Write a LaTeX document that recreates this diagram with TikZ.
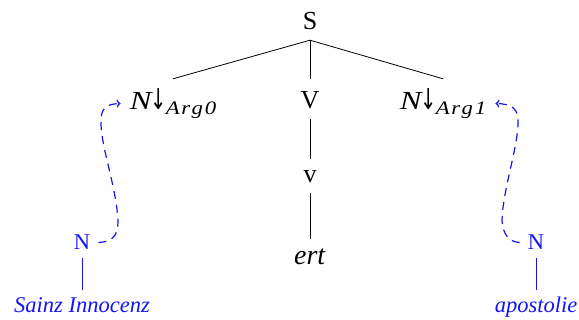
\documentclass[tikz,border=0pt]{standalone}
\usepackage{graphicx}
\usepackage{fontspec}
\setmainfont{Liberation Serif}
\newfontfamily\arrowfont{DejaVu Sans}
\usetikzlibrary{arrows.meta}
\definecolor{depblue}{RGB}{20,20,245}
\tikzset{
  lab/.style={inner xsep=0pt, inner ysep=10pt, text depth=0pt, anchor=base,
    font=\fontsize{26}{30}\selectfont},
  argn/.style={lab, inner xsep=9pt},
  leaf/.style={inner xsep=8pt, inner ysep=8pt, text depth=0pt, anchor=base,
    text=depblue, font=\fontsize{22.5}{27}\selectfont},
  edge/.style={line width=0.8pt, black},
  bedge/.style={line width=0.8pt, depblue},
  dep/.style={line width=1.2pt, depblue, dash pattern=on 8pt off 6pt,
    -{To[length=4pt,width=8pt]}},
}
\newcommand{\argsub}[1]{\scalebox{1.25}[1]{\itshape N}\kern-1pt\scalebox{0.85}[1.25]{\arrowfont\fontsize{23}{26}\selectfont ↓}\kern-1pt\raisebox{-5pt}{\fontsize{19}{19}\selectfont\scalebox{1.2}[1]{\itshape A\kern1.2pt r\kern1.2pt g\kern1.5pt #1}}}
\begin{document}
\begin{tikzpicture}[x=1pt,y=-1pt]
\useasboundingbox (0,0) rectangle (579,320);
\node[lab, text height=21pt] (S) at (310,30) {S};
\node[argn, text height=21pt] (arg0) at (173,110) {\argsub{0}};
\node[lab, text height=20pt] (V) at (310,109) {V};
\node[argn, text height=21pt] (arg1) at (443,110) {\argsub{1}};
\node[lab, text height=14pt] (v) at (310,183) {v};
\node[lab, text height=16pt, font=\fontsize{28}{30}\selectfont] (ert) at (310,265) {\textit{ert}};
\node[leaf, text height=15pt] (Nl) at (82,250) {N};
\node[leaf, text height=15pt] (sainz) at (82,313) {\textit{Sainz Innocenz}};
\node[leaf, text height=15pt] (Nr) at (536,250) {N};
\node[leaf, text height=15pt] (apost) at (536,313) {\textit{apostolie}};
\draw[edge] (S.south) -- (arg0.north);
\draw[edge] (S.south) -- (V.north);
\draw[edge] (S.south) -- (arg1.north);
\draw[edge] (V.south) -- (v.north);
\draw[edge] (v.south) -- (ert.north);
\draw[bedge] (Nl.south) -- (sainz.north);
\draw[bedge] (Nr.south) -- (apost.north);
\draw[dep] (Nl.east) .. controls (112,242) and (118,236) .. (118,222)
  .. controls (117,190) and (102,150) .. (101,125)
  .. controls (100,108) and (106,104) .. ([yshift=-4pt]arg0.west);
\draw[dep] (Nr.west) .. controls (510,242) and (503,236) .. (502,220)
  .. controls (503,190) and (517,150) .. (518,125)
  .. controls (519,108) and (512,104) .. ([yshift=-4pt]arg1.east);
\end{tikzpicture}
\end{document}
